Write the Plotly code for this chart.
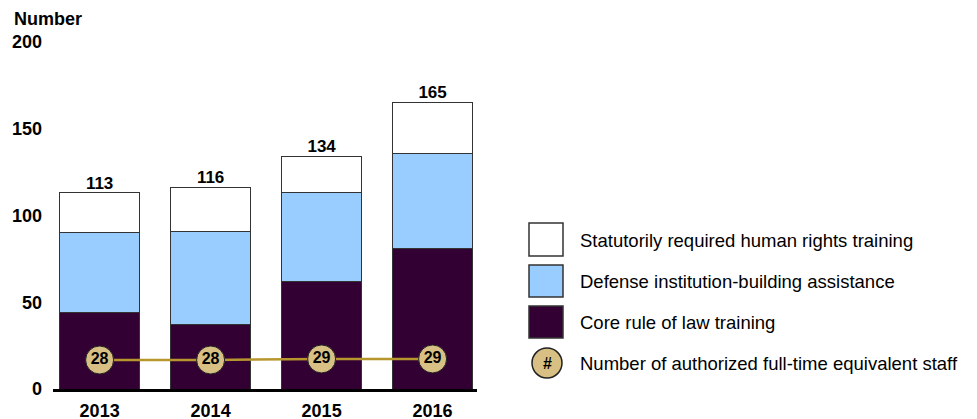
import plotly.graph_objects as go

years = ["2013", "2014", "2015", "2016"]
core_rule_of_law = [44, 37, 62, 81]
defense_institution = [46, 54, 51, 55]
statutory_human_rights = [23, 25, 21, 29]
staff_fte = [28, 28, 29, 29]
totals = [c + d + s for c, d, s in zip(core_rule_of_law, defense_institution, statutory_human_rights)]

legend_labels = [
    "Statutorily required human rights training",
    "Defense institution-building assistance",
    "Core rule of law training",
    "Number of authorized full-time equivalent staff",
]

W, H = 977, 419
L, R, T, B = 53, 500, 42, 30
PW = W - L - R
PH = H - T - B

C_CORE = "#330033"
C_DEF = "#99CCFF"
C_STAT = "#FFFFFF"
C_GOLD = "#D8C084"
C_LINE = "#B8962E"
OUT = "#333333"
FONT = "Liberation Sans, Arial, sans-serif"

def px(x):
    return (x - L) / PW

def py(y):
    return (H - B - y) / PH

fig = go.Figure()
for name, vals, col in [
    (legend_labels[2], core_rule_of_law, C_CORE),
    (legend_labels[1], defense_institution, C_DEF),
    (legend_labels[0], statutory_human_rights, C_STAT),
]:
    fig.add_trace(go.Bar(x=years, y=vals, name=name, marker=dict(color=col, line=dict(color=OUT, width=1)),
                         showlegend=False, hoverinfo="y"))

fig.add_trace(go.Scatter(
    x=years, y=totals, mode="text", text=[str(t) for t in totals], textposition="top center",
    textfont=dict(family=FONT, size=17, color="#000", weight="bold"), showlegend=False, cliponaxis=False,
))

fig.add_trace(go.Scatter(
    x=years, y=staff_fte, yaxis="y2", mode="lines+markers+text",
    line=dict(color=C_LINE, width=2.5),
    marker=dict(size=28, color=C_GOLD, line=dict(color="#222222", width=1)),
    text=[str(v) for v in staff_fte], textposition="middle center",
    textfont=dict(family=FONT, size=16, color="#000000", weight="bold"),
    showlegend=False, cliponaxis=False,
))

annotations = []
annotations.append(dict(x=px(12), y=py(19), xref="paper", yref="paper", text="<b>Number</b>", showarrow=False,
                        xanchor="left", yanchor="middle", font=dict(family=FONT, size=18, color="#000")))

shapes = []
sw = [(223, 256, C_STAT), (265, 297, C_DEF), (306, 338, C_CORE)]
for (y0, y1, col) in sw:
    shapes.append(dict(type="rect", xref="paper", yref="paper", x0=px(529), x1=px(563), y0=py(y1), y1=py(y0),
                       fillcolor=col, line=dict(color=OUT, width=1.5)))
shapes.append(dict(type="circle", xref="paper", yref="paper", x0=px(532), x1=px(562), y0=py(378), y1=py(348),
                   fillcolor=C_GOLD, line=dict(color="#222222", width=1.5)))
annotations.append(dict(x=px(547), y=py(363), xref="paper", yref="paper", text="<b>#</b>", showarrow=False,
                        xanchor="center", yanchor="middle", font=dict(family=FONT, size=16, color="#000")))
for lab, yc in zip(legend_labels, [240, 281, 322, 363]):
    annotations.append(dict(x=px(578), y=py(yc), xref="paper", yref="paper", text=lab, showarrow=False,
                            xanchor="left", yanchor="middle", font=dict(family=FONT, size=18.5, color="#000")))

fig.update_layout(
    width=W, height=H, barmode="stack", bargap=0.28,
    margin=dict(l=L, r=R, t=T, b=B, pad=0, autoexpand=False),
    plot_bgcolor="white", paper_bgcolor="white",
    font=dict(family=FONT, size=18, color="#000"),
    xaxis=dict(type="category", range=[-0.42, 3.4], showline=True, linecolor="#000", linewidth=3,
               ticks="", showgrid=False, automargin=False, ticklabelstandoff=3,
               tickfont=dict(family=FONT, size=18, color="#000", weight="bold")),
    yaxis=dict(range=[0, 200], tickvals=[0, 50, 100, 150, 200], showgrid=False, zeroline=False,
               showline=False, ticks="", automargin=False,
               tickfont=dict(family=FONT, size=18, color="#000", weight="bold"), ticklabelstandoff=10),
    yaxis2=dict(range=[0, 335], overlaying="y", visible=False),
    annotations=annotations, shapes=shapes,
)

fig.write_html("out.html", config={"displayModeBar": False},
               post_script="document.body.style.margin='0px';document.body.style.overflow='hidden';")
